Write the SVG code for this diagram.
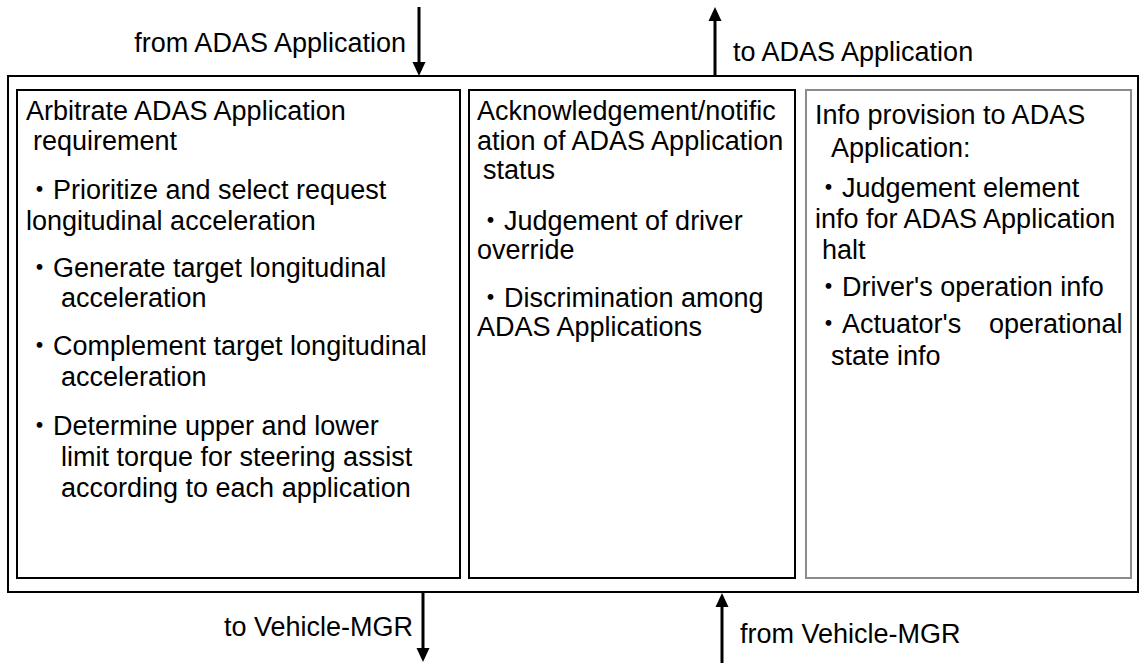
<svg xmlns="http://www.w3.org/2000/svg" width="1139" height="663" viewBox="0 0 1139 663">
<style>
text{font-family:"Liberation Sans","Noto Sans CJK JP",Arial,sans-serif;font-size:27px;fill:#000}
.box{fill:#fff;stroke:#000;stroke-width:2}
.gbox{fill:#fff;stroke:#8c8c8c;stroke-width:2}
.conn{stroke:#000;stroke-width:3;fill:none}
</style>
<defs>
<marker id="ah" markerUnits="userSpaceOnUse" markerWidth="14" markerHeight="14" viewBox="0 0 14 14" refX="4" refY="7" orient="auto">
<path d="M0,0.5 L14,7 L0,13.5 z" fill="#000"/>
</marker>
</defs>
<rect width="1139" height="663" fill="#fff"/>
<g id="outer">
<rect class="box" x="8" y="76" width="1130" height="516"/>
</g>
<g id="node-arbitrate">
<rect class="box" x="17" y="90" width="443" height="488"/>
<text x="26" y="120">Arbitrate ADAS Application</text>
<text x="33" y="150">requirement</text>
<text x="26" y="199">・Prioritize and select request</text>
<text x="26" y="230">longitudinal acceleration</text>
<text x="26" y="277">・Generate target longitudinal</text>
<text x="61" y="307">acceleration</text>
<text x="26" y="355">・Complement target longitudinal</text>
<text x="61" y="386">acceleration</text>
<text x="26" y="435">・Determine upper and lower</text>
<text x="61" y="466">limit torque for steering assist</text>
<text x="61" y="497">according to each application</text>
</g>
<g id="node-acknowledge">
<rect class="box" x="469" y="90" width="326" height="488"/>
<text x="477" y="120">Acknowledgement/notific</text>
<text x="477" y="150">ation of ADAS Application</text>
<text x="483" y="179">status</text>
<text x="477" y="230">・Judgement of driver</text>
<text x="477" y="259">override</text>
<text x="477" y="307">・Discrimination among</text>
<text x="477" y="336">ADAS Applications</text>
</g>
<g id="node-info">
<rect class="gbox" x="806" y="90" width="325" height="488"/>
<text x="815" y="124">Info provision to ADAS</text>
<text x="831" y="157">Application:</text>
<text x="815" y="197">・Judgement element</text>
<text x="815" y="228">info for ADAS Application</text>
<text x="822" y="259">halt</text>
<text x="815" y="296">・Driver's operation info</text>
<text x="815" y="333"><tspan>・Actuator's</tspan><tspan x="989">operational</tspan></text>
<text x="831" y="365">state info</text>
</g>
<g id="connectors">
<line class="conn" x1="419" y1="7" x2="419" y2="66" marker-end="url(#ah)"/>
<line class="conn" x1="715" y1="76" x2="715" y2="17" marker-end="url(#ah)"/>
<line class="conn" x1="423" y1="592" x2="423" y2="652" marker-end="url(#ah)"/>
<line class="conn" x1="722" y1="663" x2="722" y2="603" marker-end="url(#ah)"/>
</g>
<g id="labels">
<text x="406" y="52" text-anchor="end">from ADAS Application</text>
<text x="733" y="61">to ADAS Application</text>
<text x="413" y="636" text-anchor="end">to Vehicle-MGR</text>
<text x="740" y="643">from Vehicle-MGR</text>
</g>
</svg>
